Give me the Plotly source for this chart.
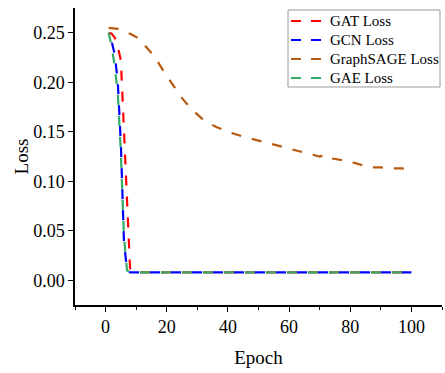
import plotly.graph_objects as go

# ---- data ----
gat_epochs = [1, 2, 3, 4, 5, 6, 7, 8, 9, 100]
gat_loss = [0.250, 0.249, 0.245, 0.236, 0.222, 0.155, 0.087, 0.012, 0.008, 0.008]

gcn_epochs = [1, 2, 3, 4, 5, 6, 7, 8, 100]
gcn_loss = [0.250, 0.241, 0.228, 0.200, 0.137, 0.040, 0.010, 0.008, 0.008]

sage_epochs = [1, 4, 8, 11, 14, 16, 19, 22, 25, 28, 32, 36, 40, 45, 50, 55, 60,
               65, 70, 72, 74, 78, 82, 86, 90, 94, 97, 100]
sage_loss = [0.255, 0.254, 0.249, 0.244, 0.233, 0.226, 0.211, 0.197, 0.184, 0.173,
             0.162, 0.155, 0.150, 0.145, 0.141, 0.137, 0.133, 0.129, 0.125, 0.127,
             0.123, 0.121, 0.118, 0.114, 0.114, 0.113, 0.113, 0.110]

gae_epochs = [1, 2, 3, 4, 5, 6, 7, 8, 100]
gae_loss = [0.250, 0.236, 0.216, 0.188, 0.128, 0.045, 0.010, 0.008, 0.008]

series_names = ["GAT Loss", "GCN Loss", "GraphSAGE Loss", "GAE Loss"]
series_x = [gat_epochs, gcn_epochs, sage_epochs, gae_epochs]
series_y = [gat_loss, gcn_loss, sage_loss, gae_loss]
series_colors = ["#FF0000", "#0000FF", "#B85A10", "#33AA66"]
series_dash = ["10px,11px", "0px,10.5px,10px,0.5px", "10px,11px", "10px,11px"]

FONT = "Liberation Serif"
W, H = 445, 373
ML, MR, MT, MB = 75, 3, 8, 68
PW, PH = W - ML - MR, H - MT - MB


def px2x(px):
    return (px - ML) / PW


def px2y(py):
    return (H - MB - py) / PH


fig = go.Figure()
for name, x, y, c, d in zip(series_names, series_x, series_y, series_colors, series_dash):
    fig.add_trace(go.Scatter(x=x, y=y, mode="lines", name=name, showlegend=False,
                             line=dict(color=c, width=2.2, dash=d)))

# legend drawn as a framed box with sample lines and labels
shapes = [dict(type="rect", xref="paper", yref="paper",
               x0=px2x(288), x1=px2x(440), y0=px2y(87), y1=px2y(10),
               line=dict(color="#9A9A9A", width=1), fillcolor="white", layer="above")]
annotations = []
row_y = [21, 40, 59, 78]
for name, c, ry in zip(series_names, series_colors, row_y):
    shapes.append(dict(type="line", xref="paper", yref="paper",
                       x0=px2x(291), x1=px2x(322), y0=px2y(ry), y1=px2y(ry),
                       line=dict(color=c, width=2, dash="10px,10px"), layer="above"))
    annotations.append(dict(text=name, xref="paper", yref="paper",
                            x=px2x(328), y=px2y(ry), xanchor="left", yanchor="middle",
                            showarrow=False,
                            font=dict(family=FONT, size=15, color="black")))

axis_common = dict(showline=True, linecolor="black", linewidth=1.5, showgrid=False,
                   zeroline=False, ticks="outside", ticklen=5, tickwidth=1.2,
                   tickcolor="black", automargin=False,
                   tickfont=dict(family=FONT, size=18, color="black"))

fig.update_xaxes(range=[-10, 110], tickvals=[0, 20, 40, 60, 80, 100],
                 minor=dict(tickvals=[-10, 10, 30, 50, 70, 90, 110], ticks="outside",
                            ticklen=3, tickwidth=1.2, tickcolor="black"),
                 title=dict(text="Epoch", font=dict(family=FONT, size=19, color="black"),
                            standoff=14),
                 **axis_common)
fig.update_yaxes(range=[-0.025, 0.275], tickvals=[0, 0.05, 0.10, 0.15, 0.20, 0.25],
                 tickformat=".2f",
                 title=dict(text="Loss", font=dict(family=FONT, size=19, color="black"),
                            standoff=0),
                 **axis_common)

fig.update_layout(
    width=W, height=H,
    margin=dict(l=ML, r=MR, t=MT, b=MB),
    paper_bgcolor="white", plot_bgcolor="white",
    font=dict(family=FONT, color="black"),
    shapes=shapes, annotations=annotations,
    showlegend=False,
)

fig.write_html("out.html", config={"displayModeBar": False},
               post_script="document.body.style.margin='0';document.body.style.overflow='hidden';")
